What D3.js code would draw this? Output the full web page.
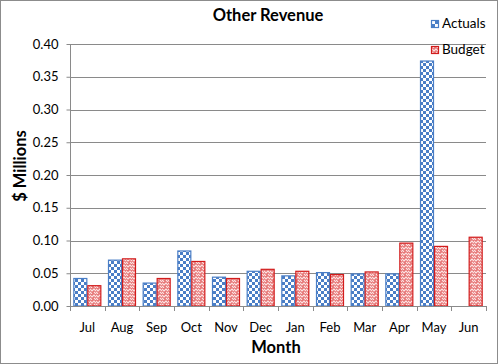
<!DOCTYPE html>
<html><head><meta charset="utf-8">
<script src="https://cdn.jsdelivr.net/npm/d3@7"></script>
<style>body{margin:0;background:#fff}svg{display:block;font-family:Lato,"Open Sans",sans-serif}</style>
</head><body>
<script>
const months = ["Jul","Aug","Sep","Oct","Nov","Dec","Jan","Feb","Mar","Apr","May","Jun"];
const actuals = [0.042,0.070,0.035,0.084,0.044,0.053,0.046,0.051,0.049,0.049,0.374,null];
const budget  = [0.031,0.072,0.042,0.068,0.042,0.056,0.053,0.048,0.052,0.096,0.091,0.105];
const yTicks = [0,0.05,0.10,0.15,0.20,0.25,0.30,0.35,0.40];
const seriesNames = ["Actuals","Budget"];

const W=498,H=364;
const svg=d3.select("body").append("svg").attr("width",W).attr("height",H);
const defs=svg.append("defs");
const p1=defs.append("pattern").attr("id","pA").attr("patternUnits","userSpaceOnUse").attr("width",6).attr("height",6);
p1.append("rect").attr("width",6).attr("height",6).attr("fill","#fff");
p1.append("rect").attr("width",3).attr("height",3).attr("fill","#4a7ec6");
p1.append("rect").attr("x",3).attr("y",3).attr("width",3).attr("height",3).attr("fill","#4a7ec6");
const p2=defs.append("pattern").attr("id","pB").attr("patternUnits","userSpaceOnUse").attr("width",6).attr("height",6);
p2.append("rect").attr("width",6).attr("height",6).attr("fill","#e67777");
p2.append("path").attr("d","M0,1 L2,3 L4,1 L6,3 M0,4 L2,6 M4,4 L6,6").attr("stroke","#fde4e4").attr("stroke-width",1.1).attr("fill","none");

svg.append("rect").attr("x",0.5).attr("y",0.5).attr("width",W-1).attr("height",H-1).attr("fill","#fff").attr("stroke","#8c8c8c");

const x0=70,x1=486,yTop=44,yBot=306;
const x=d3.scaleBand().domain(months).range([x0,x1]).paddingInner(0).paddingOuter(0);
const y=d3.scaleLinear().domain([0,0.40]).range([yBot,yTop]);

svg.append("g").selectAll("line").data(yTicks.filter(d=>d>0)).join("line")
 .attr("x1",x0).attr("x2",x1).attr("y1",d=>Math.round(y(d))+0.5).attr("y2",d=>Math.round(y(d))+0.5)
 .attr("stroke","#8a8a8a").attr("stroke-width",1);

const ya=svg.append("g").attr("transform",`translate(${x0+0.5},0)`)
 .call(d3.axisLeft(y).tickValues(yTicks).tickFormat(d3.format(".2f")).tickSize(4).tickPadding(8));
ya.select(".domain").attr("stroke","#8a8a8a").attr("d",`M0,${yTop}V${yBot}`);
ya.selectAll(".tick line").attr("stroke","#8a8a8a");
ya.selectAll(".tick text").attr("font-size",13).attr("font-family","Lato").attr("fill","#000");

const bw=14, gap=(x.bandwidth()-2*bw)/2;
const g=svg.append("g");
g.selectAll(".a").data(months.map((m,i)=>({m,v:actuals[i]})).filter(d=>d.v!=null)).join("rect")
 .attr("x",d=>x(d.m)+gap+0.5).attr("width",bw-1).attr("y",d=>y(d.v)).attr("height",d=>y(0)-y(d.v))
 .attr("fill","url(#pA)").attr("stroke","#4a7ec6").attr("stroke-width",1.2);
g.selectAll(".b").data(months.map((m,i)=>({m,v:budget[i]}))).join("rect")
 .attr("x",d=>x(d.m)+gap+bw+0.5).attr("width",bw-1).attr("y",d=>y(d.v)).attr("height",d=>y(0)-y(d.v))
 .attr("fill","url(#pB)").attr("stroke","#d21c1c").attr("stroke-width",1.2);

const xa=svg.append("g").attr("transform",`translate(0,${yBot+0.5})`)
 .call(d3.axisBottom(x).tickSize(0).tickPadding(16));
xa.select(".domain").attr("stroke","#8a8a8a").attr("d",`M${x0},0H${x1}`);
xa.selectAll(".tick text").attr("font-size",13).attr("font-family","Lato").attr("fill","#000");
svg.append("g").selectAll("line").data(d3.range(13)).join("line")
 .attr("x1",i=>Math.round(x0+i*x.step())+0.5).attr("x2",i=>Math.round(x0+i*x.step())+0.5)
 .attr("y1",yBot).attr("y2",yBot+5).attr("stroke","#8a8a8a");

svg.append("text").attr("x",268).attr("y",21).attr("text-anchor","middle").attr("font-weight","bold").attr("font-size",16.5).text("Other Revenue");
svg.append("text").attr("x",276).attr("y",353).attr("text-anchor","middle").attr("font-weight","bold").attr("font-size",16.5).text("Month");
svg.append("text").attr("transform","translate(26,166) rotate(-90)").attr("text-anchor","middle").attr("font-weight","bold").attr("font-size",16.5).text("$ Millions");

const lg=svg.append("g");
const lp=[{n:seriesNames[0],y:28,f:"#4a7ec6"},{n:seriesNames[1],y:54,f:"#d21c1c"}];
lp.forEach((d,i)=>{
  lg.append("rect").attr("x",431.5).attr("y",d.y-7.5).attr("width",7).attr("height",7).attr("fill",i==0?"url(#pA)":"url(#pB)").attr("stroke",d.f).attr("stroke-width",1.2);
  lg.append("text").attr("x",442).attr("y",d.y).attr("font-size",13.5).text(d.n);
});
</script>
</body></html>
